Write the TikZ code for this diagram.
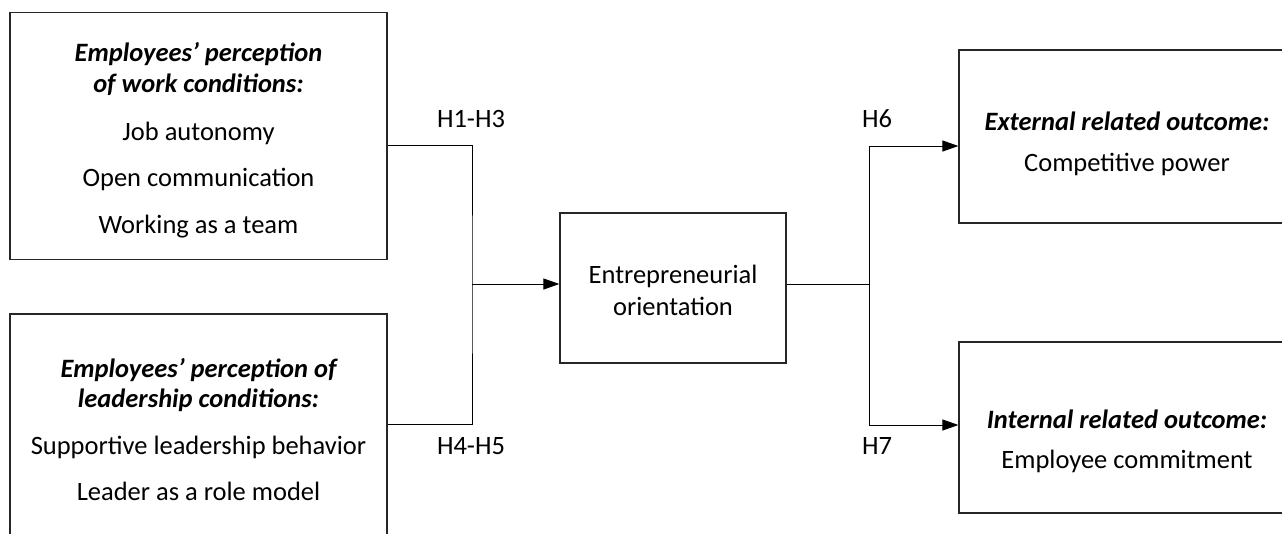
\documentclass[tikz,border=0pt]{standalone}
\usepackage{fontspec}
\setmainfont{Carlito}
\usetikzlibrary{arrows.meta}
\tikzset{
  box/.style={draw=black!85, line width=1.2pt, inner sep=0pt},
  txt/.style={anchor=base, inner sep=0pt, font=\fontsize{26.5}{30}\selectfont},
  ttl/.style={txt, font=\fontsize{26.5}{30}\selectfont\bfseries\itshape},
  conn/.style={line width=1pt, draw=black},
  arr/.style={conn, -{Triangle[length=16pt,width=11pt]}},
}
\begin{document}
\begin{tikzpicture}[x=1pt,y=-1pt]
\useasboundingbox (0,0) rectangle (1282,533);
\clip (0,0) rectangle (1282,533);
% boxes
\node[box, minimum width=377pt, minimum height=247pt] (b1) at (198.5,136) {};
\node[box, minimum width=377pt, minimum height=246pt] (b2) at (198.5,437) {};
\node[box, minimum width=226pt, minimum height=150pt] (eo) at (673,288) {};
\node[box, minimum width=336pt, minimum height=173pt] (b3) at (1127,136.5) {};
\node[box, minimum width=336pt, minimum height=171pt] (b4) at (1127,427.5) {};
% texts
\node[ttl] (t1a) at (198.5,61) {Employees’ perception};
\node[ttl] (t1b) at (198.5,92) {of work conditions:};
\node[txt] (t1c) at (198.5,140) {Job autonomy};
\node[txt] (t1d) at (198.5,186) {Open communication};
\node[txt] (t1e) at (198.5,233) {Working as a team};
\node[ttl] (t2a) at (198.5,377) {Employees’ perception of};
\node[ttl] (t2b) at (198.5,407) {leadership conditions:};
\node[txt] (t2c) at (198.5,454) {Supportive leadership behavior};
\node[txt] (t2d) at (198.5,500) {Leader as a role model};
\node[txt] (te1) at (673,283.5) {Entrepreneurial};
\node[txt] (te2) at (673,315) {orientation};
\node[ttl] (t3a) at (1127,130) {External related outcome:};
\node[txt] (t3b) at (1127,171) {Competitive power};
\node[ttl] (t4a) at (1127,428) {Internal related outcome:};
\node[txt] (t4b) at (1127,468.5) {Employee commitment};
\node[txt] (h13) at (471,127) {H1-H3};
\node[txt] (h45) at (471,454) {H4-H5};
\node[txt] (h6) at (877,127) {H6};
\node[txt] (h7) at (877,454) {H7};
% connectors
\coordinate (jl) at (472,284);
\coordinate (jr) at (869,284);
\draw[conn] (b1.east |- 0,145) -| (jl) |- (b2.east |- 0,424);
\draw[arr] (jl) -- (eo.west |- jl);
\draw[conn] (eo.east |- jr) -- (jr);
\draw[arr] (jr) |- (b3.west |- 0,146);
\draw[arr] (jr) |- (b4.west |- 0,425);
\end{tikzpicture}
\end{document}
